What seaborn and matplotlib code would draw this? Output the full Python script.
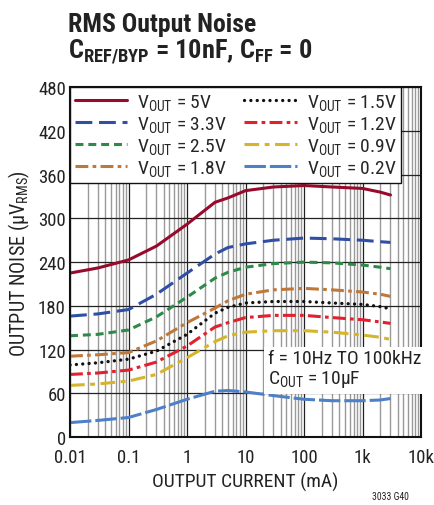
import numpy as np
import pandas as pd
import seaborn as sns
import matplotlib
matplotlib.use("Agg")
import matplotlib.pyplot as plt
from matplotlib.ticker import FixedLocator, LogLocator, NullFormatter

# output current (mA)
current = [0.01, 0.03, 0.1, 0.3, 1, 3, 5, 10, 30, 100, 300, 1000, 2000, 3000]

# output noise (uV rms)
noise_5v0 = [225, 232, 243, 262, 292, 322, 328, 338, 343, 345, 343, 341, 336, 332]
noise_3v3 = [166, 169, 175, 196, 225, 251, 260, 265, 270, 273, 272, 270, 268, 267]
noise_2v5 = [139, 141, 147, 165, 192, 218, 226, 233, 238, 240, 239, 236, 233, 231]
noise_1v8 = [111, 113, 116, 132, 157, 177, 187, 196, 202, 204, 202, 199, 196, 193]
noise_1v5 = [99, 102, 107, 118, 141, 170, 178, 184, 186, 186, 184, 182, 179, 176]
noise_1v2 = [86, 88, 92, 103, 125, 151, 157, 164, 167, 167, 164, 161, 158, 156]
noise_0v9 = [71, 73, 77, 86, 109, 131, 139, 144, 146, 146, 144, 140, 137, 134]
noise_0v2 = [20, 23, 27, 38, 52, 63, 64, 62, 57, 52, 50, 50, 51, 53]

labels = ["5V", "3.3V", "2.5V", "1.8V", "1.5V", "1.2V", "0.9V", "0.2V"]
series = [noise_5v0, noise_3v3, noise_2v5, noise_1v8,
          noise_1v5, noise_1v2, noise_0v9, noise_0v2]
colors = ["#980a2c", "#2f4fa6", "#2e8a48", "#c0783a",
          "#111111", "#e2202e", "#d6b42c", "#4d80c8"]
styles = [
    "-",
    (0, (5.5, 2.2)),
    (0, (2.6, 1.6)),
    (0, (4.2, 1.4, 1.2, 1.4)),
    (0, (0.01, 1.9)),
    (0, (4.2, 1.4, 1.2, 1.4)),
    (0, (4.8, 1.8, 1.6, 1.8)),
    (0, (7.0, 1.3)),
]

sns.set_theme(style="white")
plt.rcParams["font.family"] = ["Roboto Condensed", "DejaVu Sans"]
plt.rcParams["mathtext.default"] = "regular"

fig = plt.figure(figsize=(4.35, 5.06), dpi=100)
ax = fig.add_axes([0.161, 0.134, 0.807, 0.692])

for lab, vals, c, ls in zip(labels, series, colors, styles):
    df = pd.DataFrame({"I": current, "N": vals})
    caps = "round" if lab == "1.5V" else "butt"
    sns.lineplot(data=df, x="I", y="N", ax=ax, color=c, lw=2.4 if lab == "1.5V" else 2.2,
                 linestyle=ls, dash_capstyle=caps, label=r"V$_{OUT}$ = " + lab)

ax.set_xscale("log")
ax.set_xlim(0.01, 10000)
ax.set_ylim(0, 480)
ax.set_yticks(np.arange(0, 481, 60))
ax.xaxis.set_major_locator(FixedLocator([0.01, 0.1, 1, 10, 100, 1000, 10000]))
ax.set_xticklabels(["0.01", "0.1", "1", "10", "100", "1k", "10k"])
ax.xaxis.set_minor_locator(LogLocator(base=10, subs=np.arange(2, 10)))
ax.xaxis.set_minor_formatter(NullFormatter())
ax.grid(True, which="major", color="#222222", lw=0.9)
ax.grid(True, which="minor", axis="x", color="#999999", lw=1.0)
ax.tick_params(which="both", length=0, labelsize=13.5, colors="#222222")
ax.tick_params(axis="y", pad=3)
ax.tick_params(axis="x", pad=8)
for s in ax.spines.values():
    s.set_color("#111111")
    s.set_linewidth(1.5)

ax.set_xlabel("OUTPUT CURRENT (mA)", fontsize=14, color="#222222", labelpad=4)
ax.set_ylabel(r"OUTPUT NOISE (µV$_{RMS}$)", fontsize=14.5, color="#222222", labelpad=4)

handles, labs = ax.get_legend_handles_labels()
leg = ax.legend(handles, labs, ncol=2, loc="upper left", fontsize=14,
                handlelength=2.7, handletextpad=0.5, columnspacing=0.9,
                labelspacing=0.1, borderaxespad=0, borderpad=0.25,
                frameon=True, fancybox=False, framealpha=1, edgecolor="#111111")
leg.get_frame().set_linewidth(1.0)

ax.text(0.565, 0.252, "f = 10Hz TO 100kHz\nC$_{OUT}$ = 10µF", transform=ax.transAxes,
        ha="left", va="top", fontsize=14, color="#222222", linespacing=1.1,
        bbox=dict(facecolor="white", edgecolor="none", pad=3))

fig.text(0.156, 0.937, "RMS Output Noise", fontsize=18.5, fontweight="bold", color="#222222")
fig.text(0.156, 0.882, r"C$_{REF/BYP}$ = 10nF, C$_{FF}$ = 0", fontsize=19,
         fontweight="bold", color="#222222")
fig.text(0.94, 0.012, "3033 G40", fontsize=7, ha="right", color="#222222")

fig.savefig("out.png", dpi=100)
